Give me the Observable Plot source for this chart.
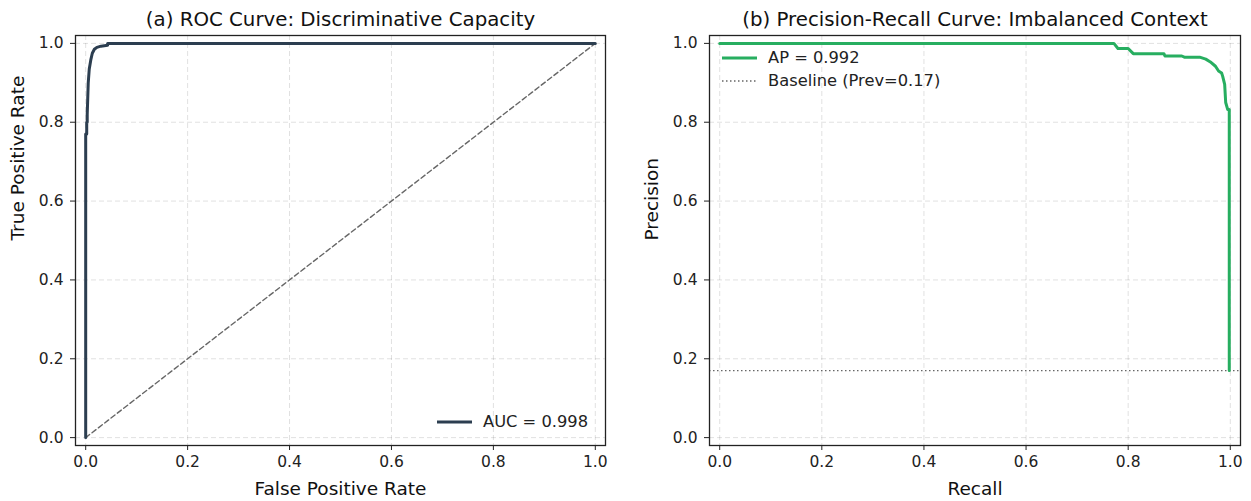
<!DOCTYPE html>
<html>
<head>
<meta charset="utf-8">
<script src="https://cdn.jsdelivr.net/npm/d3@7"></script>
<script src="https://cdn.jsdelivr.net/npm/@observablehq/plot@0.6"></script>
<style>
  body { margin: 0; background: white; font-family: "DejaVu Sans", sans-serif; }
  #wrap { position: relative; width: 1251px; height: 501px; display: flex; }
  .legend { position: absolute; font-size: 16.3px; color: #222; }
  .row { display: flex; align-items: center; height: 23px; }
  .row svg { margin-right: 11px; }
</style>
</head>
<body>
<div id="wrap"></div>
<script>
// ---- data ----
const ticks = [0, 0.2, 0.4, 0.6, 0.8, 1.0];
const rocFpr = [0, 0, 0.002, 0.002, 0.003, 0.003, 0.004, 0.005, 0.007, 0.010, 0.013, 0.017, 0.022, 0.030, 0.043, 0.043, 1.0];
const rocTpr = [0, 0.77, 0.77, 0.80, 0.80, 0.82, 0.86, 0.90, 0.935, 0.958, 0.975, 0.985, 0.99, 0.993, 0.995, 1.0, 1.0];
const diagonal = [0, 1];
const prRecall    = [0, 0.772, 0.780, 0.800, 0.810, 0.870, 0.872, 0.905, 0.910, 0.940, 0.952, 0.961, 0.971, 0.977, 0.983, 0.985, 0.989, 0.991, 0.995, 0.998, 0.998];
const prPrecision = [1, 1.000, 0.987, 0.987, 0.974, 0.974, 0.968, 0.968, 0.965, 0.965, 0.960, 0.953, 0.942, 0.930, 0.925, 0.917, 0.896, 0.850, 0.832, 0.832, 0.170];
const prevalence = [0.17];
const aucValue = 0.998;
const apValue = 0.992;
const titles = ["(a) ROC Curve: Discriminative Capacity", "(b) Precision-Recall Curve: Imbalanced Context"];

const roc = rocFpr.map((f, i) => ({fpr: f, tpr: rocTpr[i]}));
const pr = prRecall.map((r, i) => ({recall: r, precision: prPrecision[i]}));

const rocColor = "#2c3e50";
const prColor = "#27ae60";
const gridStyle = {stroke: "#000", strokeOpacity: 0.12, strokeDasharray: "5,3", strokeWidth: 1};

function panel({width, marginLeft, marginRight, title, xLabel, yLabel, marks}) {
  return Plot.plot({
    width, height: 501,
    marginLeft, marginRight, marginTop: 35, marginBottom: 56,
    x: {domain: [-0.02, 1.02]},
    y: {domain: [-0.02, 1.02]},
    style: {fontFamily: "DejaVu Sans", fontSize: "15.5px", color: "#222", background: "white"},
    marks: [
      Plot.gridX(ticks, gridStyle),
      Plot.gridY(ticks, gridStyle),
      ...marks,
      Plot.frame({stroke: "#222", strokeWidth: 1.3}),
      Plot.axisX(ticks, {tickFormat: ".1f", tickSize: 5, tickPadding: 5, label: null}),
      Plot.axisY(ticks, {tickFormat: ".1f", tickSize: 5, tickPadding: 7, label: null}),
      Plot.text([title], {text: d => d, frameAnchor: "top", dy: -16, fontSize: 19.8, fill: "#111", lineAnchor: "middle"}),
      Plot.text([xLabel], {text: d => d, frameAnchor: "bottom", dy: 44, fontSize: 18.5, fill: "#111", lineAnchor: "middle"}),
      Plot.text([yLabel], {text: d => d, frameAnchor: "left", dx: -57, rotate: -90, fontSize: 18.5, fill: "#111", lineAnchor: "middle"})
    ]
  });
}

const left = panel({
  width: 625, marginLeft: 75, marginRight: 20,
  title: titles[0], xLabel: "False Positive Rate", yLabel: "True Positive Rate",
  marks: [
    Plot.line(diagonal, {x: d => d, y: d => d, stroke: "#666", strokeWidth: 1.4, strokeDasharray: "5,3"}),
    Plot.line(roc, {x: "fpr", y: "tpr", stroke: rocColor, strokeWidth: 3})
  ]
});

const right = panel({
  width: 626, marginLeft: 84, marginRight: 11,
  title: titles[1], xLabel: "Recall", yLabel: "Precision",
  marks: [
    Plot.ruleY(prevalence, {stroke: "#666", strokeWidth: 1.4, strokeDasharray: "1.5,2.5"}),
    Plot.line(pr, {x: "recall", y: "precision", stroke: prColor, strokeWidth: 3})
  ]
});

const wrap = document.getElementById("wrap");
wrap.appendChild(left);
wrap.appendChild(right);

function legendRow(sample, label) {
  return `<div class="row"><svg width="35" height="10"><line x1="0" x2="35" y1="5" y2="5" ${sample}/></svg><span>${label}</span></div>`;
}

const legA = document.createElement("div");
legA.className = "legend";
legA.style.left = "437px";
legA.style.top = "410px";
legA.innerHTML = legendRow(`stroke="${rocColor}" stroke-width="3"`, `AUC = ${aucValue.toFixed(3)}`);
wrap.appendChild(legA);

const legB = document.createElement("div");
legB.className = "legend";
legB.style.left = "722px";
legB.style.top = "46px";
legB.innerHTML =
  legendRow(`stroke="${prColor}" stroke-width="3"`, `AP = ${apValue.toFixed(3)}`) +
  legendRow(`stroke="#666" stroke-width="1.4" stroke-dasharray="1.5,2.5"`, `Baseline (Prev=${prevalence[0].toFixed(2)})`);
wrap.appendChild(legB);
</script>
</body>
</html>
